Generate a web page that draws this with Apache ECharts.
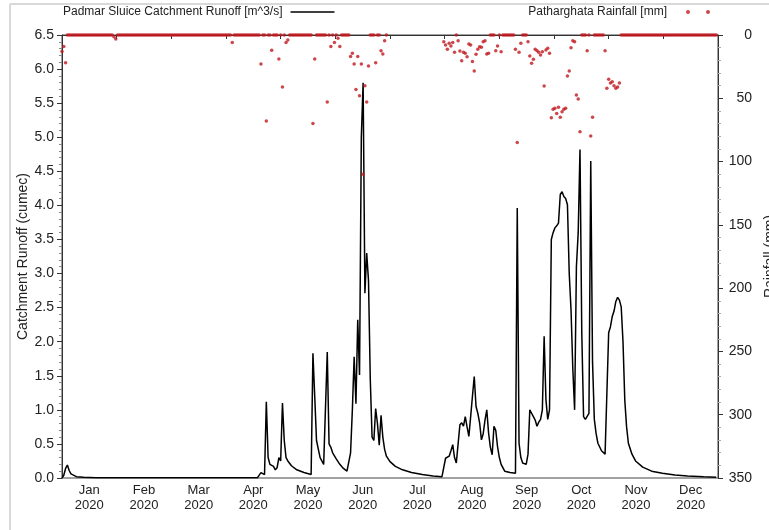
<!DOCTYPE html>
<html><head><meta charset="utf-8">
<script src="https://cdn.jsdelivr.net/npm/echarts@6/dist/echarts.min.js"></script>
<style>html,body{margin:0;padding:0;background:#fff}#c{width:769px;height:530px}</style>
</head><body><div id="c"></div>
<script>
// ---- tick labels ----
const monthLabels = ['Jan','Feb','Mar','Apr','May','Jun','Jul','Aug','Sep','Oct','Nov','Dec'];
const yearLabel = '2020';

// ---- runoff (m^3/s) ----
const runoffDates = [
 '2020-01-01','2020-01-02','2020-01-03','2020-01-04','2020-01-05','2020-01-06','2020-01-07','2020-01-09','2020-01-13','2020-01-20','2020-02-05','2020-04-19',
 '2020-04-20','2020-04-21','2020-04-22','2020-04-23','2020-04-24','2020-04-25','2020-04-26','2020-04-27','2020-04-28','2020-04-29','2020-04-30',
 '2020-05-01','2020-05-02','2020-05-03','2020-05-04','2020-05-05','2020-05-06','2020-05-08','2020-05-11','2020-05-15','2020-05-19','2020-05-20','2020-05-21','2020-05-22','2020-05-24','2020-05-26','2020-05-27','2020-05-28','2020-05-29','2020-05-30','2020-05-31',
 '2020-06-02','2020-06-04','2020-06-06','2020-06-08','2020-06-09','2020-06-10','2020-06-11','2020-06-12','2020-06-13','2020-06-14','2020-06-15','2020-06-16','2020-06-17','2020-06-18','2020-06-19','2020-06-20','2020-06-21','2020-06-22','2020-06-23','2020-06-24','2020-06-25','2020-06-26','2020-06-27','2020-06-28','2020-06-29','2020-06-30',
 '2020-07-02','2020-07-05','2020-07-09','2020-07-14','2020-07-20','2020-07-26','2020-07-31',
 '2020-08-01','2020-08-02','2020-08-03','2020-08-04','2020-08-05','2020-08-06','2020-08-07','2020-08-08','2020-08-09','2020-08-10','2020-08-11','2020-08-12','2020-08-13','2020-08-14','2020-08-15','2020-08-16','2020-08-17','2020-08-18','2020-08-19','2020-08-20','2020-08-21','2020-08-22','2020-08-23','2020-08-24','2020-08-25','2020-08-26','2020-08-27','2020-08-28','2020-08-29','2020-08-30','2020-08-31',
 '2020-09-01','2020-09-02','2020-09-04','2020-09-07','2020-09-10','2020-09-11','2020-09-12','2020-09-13','2020-09-14','2020-09-16','2020-09-17','2020-09-18','2020-09-19','2020-09-20','2020-09-21','2020-09-22','2020-09-23','2020-09-24','2020-09-25','2020-09-26','2020-09-27','2020-09-28','2020-09-29','2020-09-30',
 '2020-10-01','2020-10-02','2020-10-03','2020-10-04','2020-10-05','2020-10-06','2020-10-07','2020-10-08','2020-10-09','2020-10-10','2020-10-11','2020-10-12','2020-10-13','2020-10-14','2020-10-15','2020-10-16','2020-10-17','2020-10-18','2020-10-19','2020-10-20','2020-10-21','2020-10-22','2020-10-23','2020-10-24','2020-10-25','2020-10-26','2020-10-28','2020-10-30','2020-10-31',
 '2020-11-01','2020-11-02','2020-11-03','2020-11-04','2020-11-05','2020-11-06','2020-11-07','2020-11-08','2020-11-09','2020-11-10','2020-11-11','2020-11-12','2020-11-14','2020-11-16','2020-11-20','2020-11-25',
 '2020-12-01','2020-12-08','2020-12-15','2020-12-24','2020-12-31'
];
const runoffValues = [
 0.0,0.04,0.14,0.19,0.11,0.06,0.04,0.02,0.01,0.005,0.002,0.002,
 0.01,0.08,0.06,0.05,1.12,0.30,0.20,0.22,0.17,0.12,0.15,
 0.30,0.25,1.10,0.55,0.30,0.25,0.18,0.12,0.08,0.05,1.83,1.20,0.55,0.30,0.20,0.18,1.85,0.50,0.45,0.37,
 0.28,0.20,0.14,0.10,0.08,0.37,1.00,1.78,1.09,2.32,1.51,5.00,5.80,2.71,3.30,2.90,1.45,0.60,0.55,1.02,0.80,0.48,0.92,0.60,0.42,0.32,
 0.24,0.17,0.12,0.08,0.05,0.03,0.02,
 0.02,0.29,0.30,0.32,0.40,0.49,0.30,0.22,0.50,0.78,0.81,0.76,0.90,0.75,0.61,0.90,1.20,1.49,1.05,0.95,0.81,0.56,0.65,0.85,1.00,0.66,0.45,0.34,0.76,0.70,0.46,
 0.30,0.20,0.10,0.08,0.07,3.96,0.51,0.30,0.22,0.20,0.35,1.00,0.95,0.90,0.85,0.76,0.82,0.86,1.00,2.08,1.15,0.86,1.00,3.50,
 3.60,3.67,3.70,3.74,4.16,4.20,4.13,4.10,4.01,3.00,2.47,1.60,1.00,3.10,3.60,4.82,2.13,0.90,0.86,0.85,0.95,4.65,1.70,0.86,0.65,0.51,0.40,0.35,0.34,
 2.13,2.22,2.37,2.45,2.59,2.65,2.61,2.51,2.00,1.14,0.75,0.51,0.35,0.25,0.16,0.10,
 0.07,0.045,0.03,0.017,0.01
];

// ---- rainfall (mm), one value per day, null = no record ----
const rainJan = [13,9,22,0,0,0,0,0,0,0,0,0,0,0,0,0,0,0,0,0,0,0,0,0,0,0,0,0,0,1.3,3.2];
const rainFeb = [0,0,0,0,0,0,0,0,0,0,0,0,0,0,0,0,0,0,0,0,0,0,0,0,0,0,0,0,0];
const rainMar = [0,0,0,0,0,0,0,0,0,0,0,0,0,0,0,0,0,0,0,0,0,0,0,0,0,0,0,0,0,0,0];
const rainApr = [0,0,0,0,6,0,0,0,0,0,0,0,0,0,0,0,0,0,0,0,23,0,0,68,0,0,12,0,0,0];
const rainMay = [19,0,41,0,6,4,0,0,0,0,0,0,0,0,0,0,0,0,0,70,19,0,0,0,0,0,0,53,0,9,0];
const rainJun = [6,0,2.5,9,0,0,0,0,0,17,14.5,23,43,17,48,23,110,40,53,24.5,0,0,0,22,0,0,12.4,15,4.5,0];
const rainJul = [null,null,null,null,null,null,null,null,null,null,null,null,null,null,null,null,null,null,null,null,null,null,null,null,null,null,null,null,null,null,null];
const rainAug = [5.3,7.9,11.3,6.6,8.7,6,13.7,0,4.5,12.6,20.3,13.7,14.5,17.1,7.1,7.9,21,28.4,15.3,11.3,9.2,9.7,5.3,4.5,15,14.5,0,0,0,12.4,8.7];
const rainSep = [0,13.2,0,0,0,0,0,0,0,11.3,85,13.7,6.6,0,0,0,5.3,16.6,22.4,19.2,11.3,12.4,13.7,15.8,13.2,40.3,11.8,10.5,14.5,65.3];
const rainOct = [58.7,57.9,62,57,65,60.6,58.7,57.9,32.4,28.4,10,4.5,5.3,47.4,50.6,76.4,0,0,0,12.4,0,79.8,65,0,0,0,0,0,0,12.4,42];
const rainNov = [35,38,37,40,42,41,38,0,0,0,0,0,0,0,0,0,0,0,0,0,0,0,0,0,0,0,0,0,0,0];
const rainDec = [0,0,0,0,0,0,0,0,0,0,0,0,0,0,0,0,0,0,0,0,0,0,0,0,0,0,0,0,0,0,0];

const pad = n => (n < 10 ? '0' : '') + n;
const runoffData = runoffDates.map((d, i) => [d, runoffValues[i]]);
const rainData = [];
[rainJan, rainFeb, rainMar, rainApr, rainMay, rainJun, rainJul, rainAug, rainSep, rainOct, rainNov, rainDec]
  .forEach((arr, m) => arr.forEach((v, i) => { if (v !== null) rainData.push(['2020-' + pad(m + 1) + '-' + pad(i + 1), v]); }));

const FONT = '"Liberation Sans", Arial, sans-serif';
const TXT = '#222';
const RED = '#c0181e';
const runoffName = 'Padmar Sluice Catchment Runoff [m^3/s]';
const rainName = 'Patharghata Rainfall [mm]';

const chart = echarts.init(document.getElementById('c'), null, { renderer: 'canvas' });
chart.setOption({
  animation: false,
  backgroundColor: '#fff',
  textStyle: { fontFamily: FONT, color: TXT },
  graphic: [
    { type: 'line', shape: { x1: 10, y1: 4, x2: 10, y2: 530 }, style: { stroke: '#d9d9d9', lineWidth: 2 }, silent: true },
    { type: 'line', shape: { x1: 10, y1: 4, x2: 769, y2: 4 }, style: { stroke: '#d9d9d9', lineWidth: 2 }, silent: true }
  ],
  legend: [
    { data: [runoffName], left: 63, top: 6, padding: 0, align: 'right', icon: 'rect', itemWidth: 44, itemHeight: 1.5,
      textStyle: { fontSize: 12, color: TXT, fontFamily: FONT, padding: [0, 3, 0, 0] } },
    { data: [rainName], right: 59, top: 6, padding: 0, align: 'right',
      icon: 'path://M0,2a2,2 0 1,0 4,0a2,2 0 1,0 -4,0zM20,2a2,2 0 1,0 4,0a2,2 0 1,0 -4,0z', itemWidth: 24, itemHeight: 4,
      textStyle: { fontSize: 12, color: TXT, fontFamily: FONT, padding: [0, 14, 0, 0] } }
  ],
  grid: { left: 62, right: 51, top: 35, bottom: 52, outerBoundsMode: 'none', containLabel: false,
          show: true, borderColor: '#444', borderWidth: 1, backgroundColor: 'transparent' },
  xAxis: [
    { type: 'time', position: 'top', min: '2020-01-01', max: '2021-01-01',
      axisLine: { show: false }, axisTick: { show: false }, axisLabel: { show: false }, splitLine: { show: false } },
    { type: 'category', position: 'bottom', data: monthLabels, boundaryGap: true,
      axisLine: { show: true, lineStyle: { color: '#333', width: 1 } },
      axisTick: { show: true, length: 4, interval: 0, lineStyle: { color: '#333' } },
      axisLabel: { interval: 0, formatter: v => v + '\n' + yearLabel, fontSize: 13, lineHeight: 15, color: TXT, margin: 5, fontFamily: FONT },
      splitLine: { show: false } }
  ],
  yAxis: [
    { type: 'value', position: 'left', min: 0, max: 6.5, interval: 0.5,
      name: 'Catchment Runoff (cumec)', nameLocation: 'middle', nameGap: 32, nameMoveOverlap: false,
      nameTextStyle: { fontSize: 14, color: TXT, fontFamily: FONT },
      axisLine: { show: true, lineStyle: { color: '#333' } },
      axisTick: { show: true, length: 5, lineStyle: { color: '#333' } },
      minorTick: { show: true, splitNumber: 5, length: 3, lineStyle: { color: '#888' } },
      axisLabel: { formatter: v => v.toFixed(1), fontSize: 14, color: TXT, margin: 8, fontFamily: FONT },
      splitLine: { show: false } },
    { type: 'value', position: 'right', min: 0, max: 350, interval: 50, inverse: true,
      name: 'Rainfall (mm)', nameLocation: 'middle', nameGap: 44, nameRotate: 90,
      nameTextStyle: { fontSize: 14, color: TXT, fontFamily: FONT },
      axisLine: { show: true, lineStyle: { color: '#333' } },
      axisTick: { show: true, length: 5, lineStyle: { color: '#333' } },
      minorTick: { show: true, splitNumber: 5, length: 3, lineStyle: { color: '#aaa' } },
      axisLabel: { fontSize: 14, color: TXT, margin: 34, align: 'right', fontFamily: FONT },
      splitLine: { show: false } }
  ],
  series: [
    { name: runoffName, type: 'line', xAxisIndex: 0, yAxisIndex: 0, data: runoffData, showSymbol: false, symbol: 'none',
      color: '#000', lineStyle: { color: '#000', width: 1.5 }, z: 3 },
    { name: rainName, type: 'scatter', xAxisIndex: 0, yAxisIndex: 1, data: rainData, symbol: 'circle', symbolSize: 3.5,
      color: RED, itemStyle: { color: RED }, clip: false, z: 4 }
  ]
});
</script>
</body></html>
